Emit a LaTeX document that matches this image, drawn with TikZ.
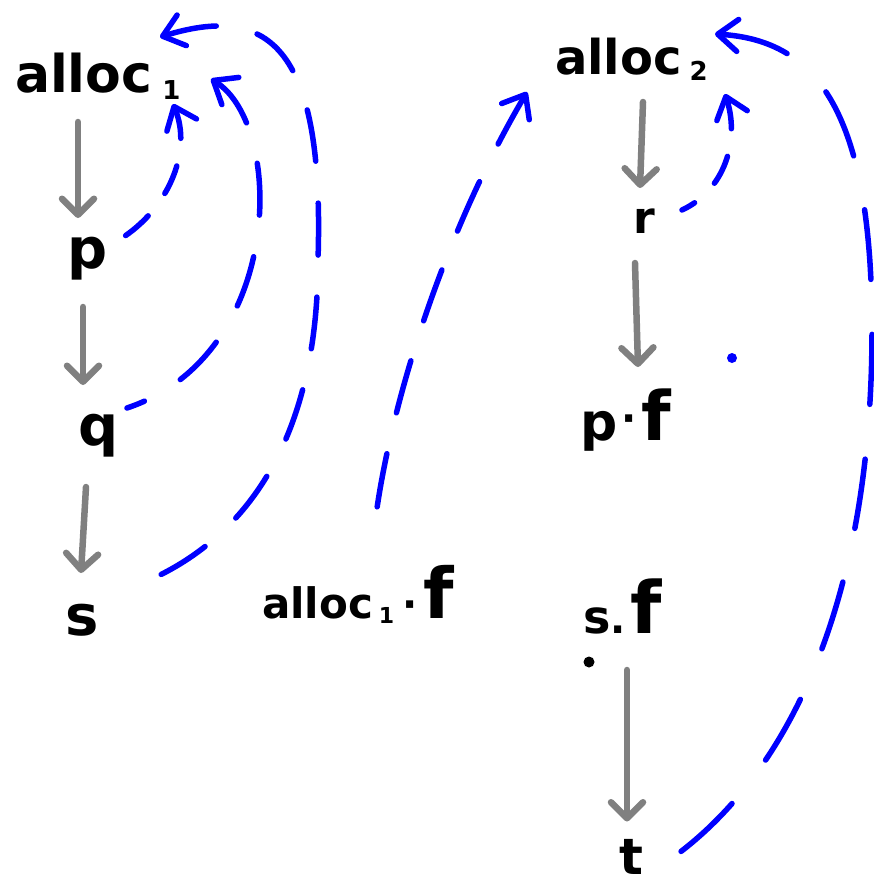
\documentclass[tikz,border=0pt]{standalone}
\usepackage{fontspec}
\setmainfont{DejaVu Sans}
\usetikzlibrary{arrows.meta,calc}
\newcommand\fsz[1]{\fontsize{#1}{#1}\selectfont}
\definecolor{inkblue}{RGB}{0,0,255}
\definecolor{inkgray}{RGB}{128,128,128}
\tikzset{
  lbl/.style={inner sep=0pt, outer sep=0pt, font=\bfseries, text=black},
  flow/.style={draw=inkgray, line width=6.5pt, line cap=round,
    -{Straight Barb[length=16pt,width=32pt,round]}},
  back/.style={draw=inkblue, line width=5.5pt, line cap=round,
    dash pattern=on 52pt off 42pt,
    {Straight Barb[length=20pt,width=32pt,round]}-},
  backshort/.style={back, dash pattern=on 30pt off 28pt},
}
\begin{document}
\begin{tikzpicture}[x=1pt,y=-1pt]
\fill[white] (0,0) rectangle (873,886);
\useasboundingbox (0,0) rectangle (873,886);

% left column
\node[lbl, text height=42pt, text depth=6pt] (a1) at (101,74)
  {\makebox[172pt][l]{{\fsz{52}alloc}\hspace{10pt}\raisebox{-7pt}{\fsz{26}1}}};
\node[lbl, text height=28pt, text depth=20pt] (p) at (87.5,264) {\fsz{56}p};
\node[lbl, text height=33pt, text depth=23pt] (q) at (98.5,440) {\fsz{56}q};
\node[lbl, text height=37pt, text depth=0pt] (s) at (82,616.5) {\fsz{56}s};

% middle label
\node[lbl, text height=51pt, text depth=10pt] (a1f) at (358.5,597.5)
  {\makebox[193pt][l]{{\fsz{42}alloc}\hspace{6pt}\raisebox{-5pt}{\fsz{22}1}\hspace{8pt}{\fsz{40}·}\hspace{6pt}{\fsz{70}f}}};

% right column
\node[lbl, text height=41pt, text depth=11pt] (a2) at (637.5,59)
  {\makebox[165pt][l]{{\fsz{48}alloc}\hspace{8pt}\raisebox{-6pt}{\fsz{26}2}}};
\node[lbl, text height=23pt, text depth=0pt] (r) at (644,221.5) {\fsz{44}r};
\node[lbl, text height=62pt, text depth=17pt] (pf) at (622.5,417.5)
  {\makebox[85pt][l]{{\fsz{52}p}\hspace{4pt}\raisebox{8pt}{\fsz{40}·}\hspace{5pt}{\fsz{68}f}}};
\node[lbl, text height=45pt, text depth=16pt] (sf) at (624,618.5)
  {\makebox[82pt][l]{{\fsz{46}s}{\fsz{40}.}\hspace{5pt}{\fsz{72}f}}};
\node[lbl, text height=37pt, text depth=0pt] (t) at (631,856) {\fsz{50}t};

% gray arrows
\draw[flow] ($(p.north |- a1.south)+(-9.5,24)$) -- ($(p.north)+(-9.5,-22)$);
\draw[flow] ($(p.south)+(-4.5,19)$) -- ($(q.north -| p.south)+(-4.5,-27)$);
\draw[flow] ($(q.south)+(-12.5,19)$) -- ($(s.north)+(-1,-25)$);
\draw[flow] ($(r.north |- a2.south)+(-1,17)$) -- ($(r.north)+(-4,-22)$);
\draw[flow] ($(r.south)+(-9,30)$) -- ($(pf.north)+(15.5,-11)$);
\draw[flow] ($(sf.south)+(3,21)$) -- ($(t.north)+(-4,-16)$);

% blue dashed back edges
\draw[backshort] ($(a1.south east)+(-14,6)$) .. controls (192,150) and (170,205) .. ($(p.north)+(37.5,-4)$);
\draw[back] ($(a1.east)+(24,5)$) .. controls (285,125) and (285,355) .. ($(q.north)+(28.5,-4)$);
\draw[back] ($(a1.north east)+(-27,-13)$) .. controls (265,5) and (325,40) .. (318,260)
  .. controls (318,420) and (260,540) .. ($(s.north)+(48,-10)$);
\draw[back, dash pattern=on 54pt off 42pt] ($(a2.south west)+(-28,7)$) .. controls (440,240) and (385,420) .. ($(a1f.north)+(14.5,-27)$);
\draw[backshort] ($(a2.south east)+(5,9)$) .. controls (740,140) and (725,190) .. ($(r.north)+(38,0)$);
\draw[back, dash pattern=on 70pt off 55pt] ($(a2.north east)+(-5,1)$) .. controls (810,40) and (872,100) .. (872,330)
  .. controls (872,600) and (790,770) .. ($(t.north)+(46,17)$);

% loose dots
\fill[inkblue] (732,358) circle (5pt);
\fill[black] (589,662) circle (5.5pt);
\end{tikzpicture}
\end{document}
